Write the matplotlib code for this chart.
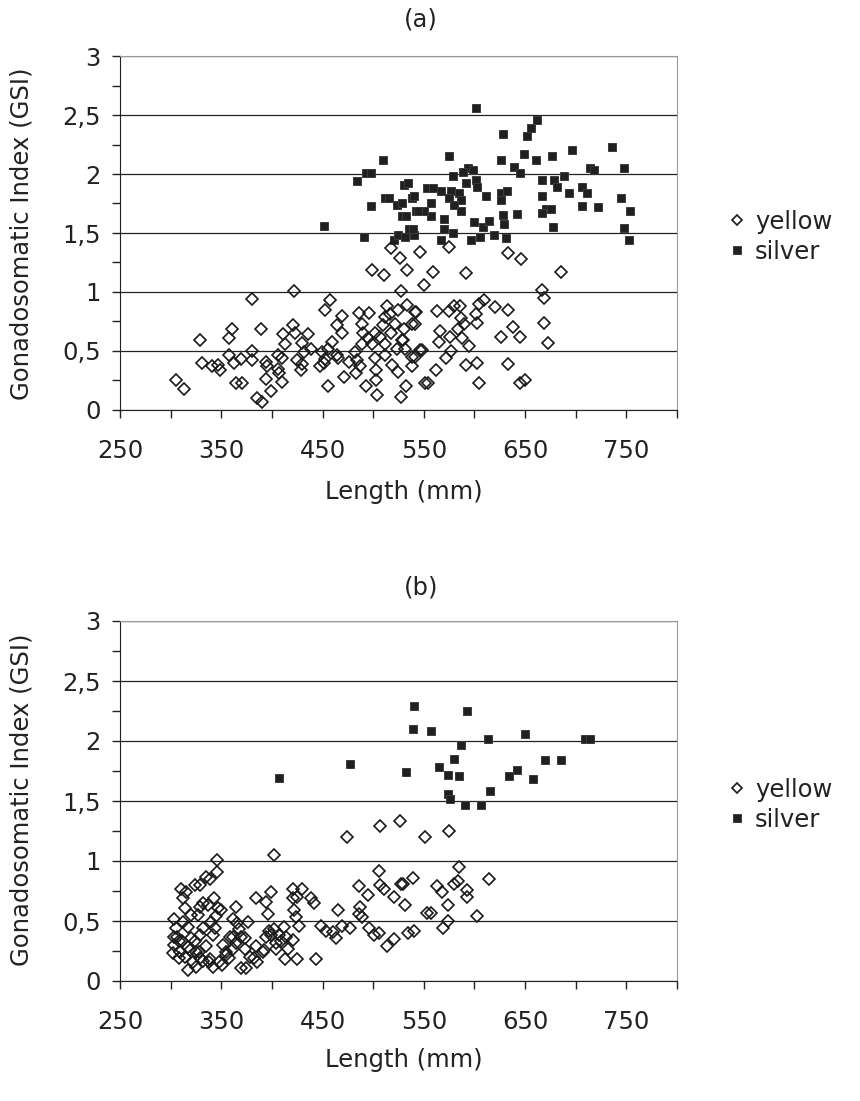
import numpy as np
import matplotlib
matplotlib.use("Agg")
import matplotlib.pyplot as plt
from matplotlib.ticker import MultipleLocator, FixedLocator, FuncFormatter

plt.rcParams['font.family'] = ['DejaVu Sans']

# panel (a): (length mm, GSI)
a_silver = [
    (451.6, 1.56), (484.4, 1.94), (493, 2.01), (497.5, 2.01), (509.7, 2.12), (491, 1.47),
    (497.5, 1.73), (512, 1.80), (516, 1.80), (524, 1.74), (530, 1.91), (538, 1.80),
    (520.5, 1.44), (525, 1.48), (528, 1.64), (535, 1.53), (540, 1.48), (541.8, 1.69),
    (548, 1.69), (553, 1.88),
    (601.5, 2.56), (662, 2.46), (656, 2.39), (652, 2.32), (628, 2.34), (696.6, 2.20),
    (736, 2.23), (575, 2.15), (626, 2.12), (649, 2.17), (660.5, 2.12), (677, 2.15),
    (639, 2.06), (645, 2.01), (594, 2.05), (599, 2.03), (589, 2.02), (714, 2.05),
    (717.7, 2.03), (748, 2.05), (667, 1.95), (678.5, 1.95), (688, 1.98), (682, 1.89),
    (706, 1.89), (711, 1.84), (693, 1.84), (667, 1.81), (578.5, 1.98), (591.6, 1.92),
    (601.5, 1.95), (603, 1.89), (559, 1.88), (567, 1.86), (577, 1.86), (585, 1.84),
    (575, 1.80), (586.7, 1.78), (580, 1.74), (586.7, 1.69), (557, 1.75), (540.7, 1.81),
    (534, 1.92), (626, 1.84), (632.5, 1.86), (626, 1.78), (611, 1.81), (671, 1.70),
    (676, 1.70), (667, 1.67), (706, 1.73), (722, 1.72), (745, 1.80), (754, 1.69),
    (747.5, 1.54), (753, 1.44), (678, 1.55), (628, 1.65), (629, 1.58), (642, 1.66),
    (600, 1.59), (608, 1.55), (614.5, 1.60), (605, 1.47), (596.6, 1.44), (619.7, 1.48),
    (631, 1.46), (570, 1.62), (570, 1.53), (567, 1.44), (578.5, 1.50), (557, 1.64),
    (550.6, 1.69), (544, 1.69), (532.6, 1.64), (539, 1.53), (531, 1.47), (528, 1.75),
]
a_yellow = [
    (305.7, 0.25), (313, 0.18), (328.7, 0.59), (331, 0.40), (341, 0.37), (346.7, 0.38),
    (349, 0.34), (358, 0.61), (360.8, 0.69), (358, 0.47), (362.5, 0.40), (364.8, 0.23),
    (370, 0.23), (369.7, 0.43), (380, 0.50), (380, 0.42), (380, 0.94), (385, 0.10),
    (390, 0.07), (389, 0.69), (394, 0.41), (395, 0.37), (394, 0.26), (399, 0.16),
    (405.6, 0.47), (405.6, 0.35), (407, 0.31), (409.7, 0.44), (410, 0.24), (410.5, 0.64),
    (413, 0.56), (420.5, 0.72), (421.5, 1.01), (423, 0.65), (424.6, 0.42), (428.7, 0.34),
    (430, 0.39), (430, 0.57), (432, 0.49), (436, 0.64), (439, 0.52), (447, 0.37),
    (449, 0.49), (452, 0.43), (451.6, 0.40), (452.5, 0.85), (457, 0.93), (455, 0.20),
    (455, 0.52), (459.5, 0.58), (464, 0.47), (465, 0.44), (464, 0.72), (469, 0.80),
    (469, 0.65), (471.5, 0.28), (475.7, 0.41), (481.6, 0.49), (483, 0.31), (484, 0.42),
    (485.6, 0.82), (487, 0.37), (489, 0.73), (490, 0.65), (489, 0.56), (492.6, 0.20),
    (495, 0.61), (496, 0.82), (498.7, 1.19), (499, 0.56), (501.5, 0.65), (502, 0.44),
    (502.6, 0.34), (503, 0.25), (504, 0.13), (507, 0.62), (510, 0.72), (511, 1.14),
    (512, 0.79), (512, 0.47), (514, 0.88), (512, 0.56), (517, 0.81), (518, 1.37),
    (518, 0.65), (518.5, 0.38), (522, 0.73), (524, 0.52), (524.6, 0.32), (526, 1.29),
    (527, 1.01), (525, 0.85), (527, 0.11), (528, 0.59), (530, 0.69), (532, 0.20),
    (533.6, 1.19), (533.6, 0.89), (538, 0.73), (538.5, 0.45), (538.5, 0.37), (541.5, 0.83),
    (546, 1.34), (546, 0.51), (550, 1.06), (551.6, 0.23),
    (559, 1.17), (574.6, 1.38), (591.6, 1.16), (633, 1.33), (646, 1.28), (685.7, 1.17),
    (667, 1.02), (669, 0.95), (669, 0.74), (673, 0.57), (542, 0.83), (563, 0.84),
    (575, 0.84), (580, 0.88), (586, 0.88), (587, 0.78), (604, 0.90), (609, 0.93),
    (620, 0.87), (633, 0.85), (601.6, 0.81), (602.6, 0.74), (590, 0.73), (583.6, 0.69),
    (566, 0.67), (565, 0.58), (575.6, 0.62), (588, 0.61), (595, 0.54), (626, 0.62),
    (638.5, 0.70), (645, 0.62), (540.8, 0.73), (529, 0.59), (531, 0.52), (548, 0.51),
    (576.9, 0.50), (572, 0.44), (540.8, 0.45), (562, 0.34), (591.6, 0.38), (602.6, 0.40),
    (633, 0.39), (554.6, 0.23), (604, 0.23), (645, 0.23), (649.7, 0.25),
]

# panel (b)
b_silver = [
    (406.7, 1.69), (476.9, 1.81), (532.6, 1.74), (540, 2.29), (539, 2.10), (557, 2.08),
    (593, 2.25), (613.6, 2.02), (649.7, 2.06), (709, 2.02), (714, 2.02), (587, 1.97),
    (579.5, 1.85), (565.4, 1.78), (573.6, 1.72), (585, 1.71), (634, 1.71), (641.8, 1.76),
    (657.9, 1.68), (670, 1.84), (685.7, 1.84), (615.5, 1.58), (573.6, 1.56), (576, 1.52),
    (590.6, 1.47), (606, 1.47),
]
b_yellow = [
    (551, 1.20), (574.6, 1.25), (585, 0.95), (614.6, 0.85), (529.7, 0.81), (563, 0.79),
    (567.7, 0.74), (580, 0.81), (583.6, 0.83), (592.6, 0.76), (592.6, 0.70), (573.6, 0.63),
    (556.6, 0.57), (602.5, 0.54), (573.6, 0.50), (568.7, 0.44),
    (402.5, 1.05), (474.6, 1.20), (507, 1.29), (526, 1.33), (505.6, 0.92), (486, 0.79),
    (494.8, 0.72), (506.6, 0.80), (510.6, 0.77), (520.5, 0.70), (527, 0.81), (539.5, 0.86),
    (531.6, 0.63), (553, 0.57), (486.6, 0.62), (486, 0.56), (488.5, 0.53), (465, 0.59),
    (469.7, 0.46), (476.9, 0.44), (495.7, 0.44), (500.6, 0.38), (505.6, 0.40), (513.8, 0.29),
    (520.5, 0.35), (534.4, 0.40), (540, 0.42), (463.6, 0.36), (460.3, 0.41), (453, 0.42),
    (448.4, 0.46), (443.6, 0.18), (441.6, 0.65), (438.5, 0.69), (430, 0.77), (425, 0.70),
    (420.5, 0.77), (420.5, 0.69), (422, 0.59), (423.6, 0.53), (427, 0.46), (424.8, 0.18),
    (413, 0.18), (412.3, 0.45), (414, 0.37), (415.7, 0.27), (420.5, 0.34), (407.4, 0.38),
    (402.5, 0.43), (404, 0.27), (399, 0.74), (394, 0.66), (396, 0.56), (384.4, 0.69),
    (376, 0.49), (397, 0.42), (392.6, 0.26), (384.4, 0.29), (382.8, 0.19), (374.6, 0.11),
    (369.7, 0.11), (373, 0.36), (373, 0.27), (364.8, 0.62), (361.5, 0.52), (365.4, 0.48),
    (367.4, 0.43), (361.5, 0.37), (361.5, 0.27), (358, 0.19), (354.9, 0.24), (351, 0.13),
    (345.7, 1.01), (345.7, 0.91), (342.5, 0.69), (338.5, 0.85), (335.2, 0.87), (346.7, 0.61),
    (350, 0.59), (345, 0.54), (336.9, 0.63), (339.5, 0.49), (343.4, 0.44), (341.8, 0.38),
    (335.2, 0.29), (338.5, 0.18), (341.8, 0.12), (328.7, 0.80), (323.8, 0.80), (332, 0.65),
    (328.7, 0.62), (327, 0.55), (332, 0.44), (328.7, 0.38), (325.4, 0.24), (328.7, 0.19),
    (325.4, 0.12), (315.6, 0.74), (310.7, 0.77), (312.3, 0.69), (314, 0.61), (320.5, 0.55),
    (317, 0.45), (320.5, 0.36), (318.9, 0.26), (322, 0.16), (317, 0.09), (311, 0.33),
    (308, 0.19), (306.4, 0.37), (303, 0.52), (303, 0.30), (302.5, 0.23), (305.7, 0.44),
    (312.3, 0.49),
    (303, 0.37), (307.8, 0.33), (309.4, 0.24), (314, 0.20), (317.3, 0.28), (323.6, 0.33),
    (328.4, 0.24), (331.5, 0.17), (337.8, 0.16), (347.3, 0.16), (352, 0.30), (355, 0.22),
    (358.3, 0.37), (364.6, 0.32), (369.4, 0.37), (378.8, 0.20), (385, 0.16), (391.4, 0.24),
    (394.5, 0.37), (399.3, 0.38), (404, 0.32), (408.7, 0.33),
]

x_labels = [250, 350, 450, 550, 650, 750]
panels = [("(a)", a_yellow, a_silver), ("(b)", b_yellow, b_silver)]

fig = plt.figure(figsize=(8.6, 11.01), dpi=100)
rects = [[120/860, 691/1101, 557/860, 354/1101], [120/860, 120/1101, 557/860, 360/1101]]
titles_y = [1 - 20/1101, 1 - 588/1101]
xlab_y = [1 - 492/1101, 1 - 1060/1101]
ylab_y = [1 - 234/1101, 1 - 800/1101]

comma = FuncFormatter(lambda v, p: ('%g' % v).replace('.', ','))

for i, (name, yel, sil) in enumerate(panels):
    ax = fig.add_axes(rects[i])
    yx, yy = np.array(yel).T
    sx, sy = np.array(sil).T
    ax.plot(sx, sy, 's', ms=5.4, color='#202020', mec='#3c3c3c', mew=0.7, label='silver', zorder=3)
    ax.plot(yx, yy, 'D', ms=5.8, mfc='none', mec='#1a1a1a', mew=1.2, label='yellow', zorder=4)

    ax.set_xlim(250, 800)
    ax.set_ylim(0, 3)
    ax.xaxis.set_major_locator(FixedLocator(x_labels))
    ax.xaxis.set_minor_locator(MultipleLocator(100))
    ax.yaxis.set_major_locator(MultipleLocator(0.5))
    ax.yaxis.set_minor_locator(MultipleLocator(0.25))
    ax.yaxis.set_major_formatter(comma)
    ax.tick_params(which='both', direction='out', length=6, width=1, colors='#222')
    ax.tick_params(axis='x', which='major', pad=15, labelsize=17.5, labelcolor='#222')
    ax.tick_params(axis='y', which='major', pad=8, labelsize=17.5, labelcolor='#222')
    ax.grid(axis='y', which='major', color='#222', lw=0.9)
    ax.set_axisbelow(True)
    for s in ['top', 'right']:
        ax.spines[s].set_color('#9a9a9a')
    for s in ['left', 'bottom']:
        ax.spines[s].set_color('#222')

    h, l = ax.get_legend_handles_labels()
    ax.legend(h[::-1], l[::-1], loc='center left', bbox_to_anchor=(1.09, 0.49), frameon=False,
              fontsize=17.5, handlelength=0.8, handletextpad=0.35, borderaxespad=0, borderpad=0,
              labelspacing=0.25, markerscale=0.95, labelcolor='#222')

    fig.text(421/860, titles_y[i], name, ha='center', va='center', fontsize=17.5, color='#222')
    fig.text(404/860, xlab_y[i], 'Length (mm)', ha='center', va='center', fontsize=17.5, color='#222')
    fig.text(22/860, ylab_y[i], 'Gonadosomatic Index (GSI)', ha='center', va='center',
             rotation=90, fontsize=17.5, color='#222')

fig.savefig('out.png', dpi=100)
